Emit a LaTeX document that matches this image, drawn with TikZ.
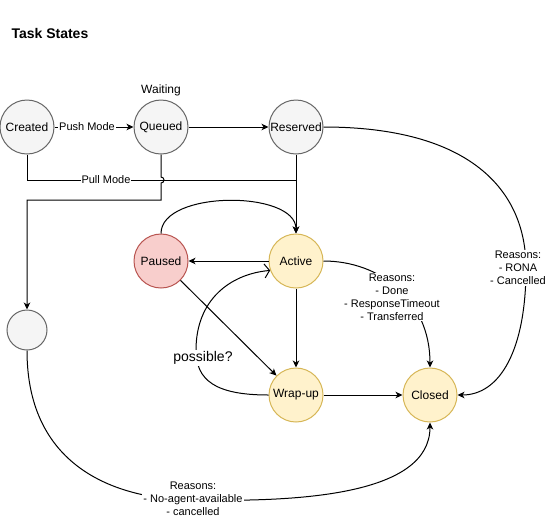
\documentclass[tikz,border=0pt]{standalone}
\usepackage{fontspec}
\setmainfont{Liberation Sans}
\usetikzlibrary{arrows.meta}
\definecolor{gfill}{HTML}{F5F5F5}
\definecolor{gline}{HTML}{666666}
\definecolor{rfill}{HTML}{F8CECC}
\definecolor{rline}{HTML}{B85450}
\definecolor{yfill}{HTML}{FFF2CC}
\definecolor{yline}{HTML}{D6B656}
\begin{document}
\begin{tikzpicture}[x=1pt,y=-1pt,
  every node/.style={font=\fontsize{12}{14}\selectfont},
  state/.style={circle,draw,line width=1pt,minimum size=54pt,inner sep=0pt},
  greystate/.style={state,fill=gfill,draw=gline},
  redstate/.style={state,fill=rfill,draw=rline},
  yellowstate/.style={state,fill=yfill,draw=yline},
  conn/.style={line width=1pt},
  arr/.style={conn,-{Stealth[length=7pt,width=6.5pt,inset=2pt]}},
  lbl/.style={fill=white,inner sep=1pt,align=center,font=\fontsize{11}{13}\selectfont},
]
\useasboundingbox (0,0) rectangle (545,520);

\node[anchor=west,font=\bfseries\fontsize{14}{16}\selectfont] (title) at (8,33) {Task States};
\node (waiting) at (161,90) {Waiting};

\node[greystate] (cr) at (27,127) {Created};
\node[greystate] (qu) at (161,127) {Queued};
\node[greystate] (re) at (296,127) {Reserved};
\node[redstate] (pa) at (161,261) {Paused};
\node[yellowstate] (ac) at (296,261) {Active};
\node[yellowstate] (wr) at (296,395) {Wrap-up};
\node[yellowstate] (cl) at (430,395) {Closed};
\node[greystate,minimum size=40pt] (bl) at (27,330) {};

\coordinate (j1) at (296,180);

% top row
\draw[arr] (cr) -- (qu);
\draw[arr] (qu) -- (re);
\draw[conn] (cr.south) |- (j1);
\draw[arr] (re) -- (ac);
\draw[arr] (qu.south) -- (161,177) .. controls (165,177) and (165,183) .. (161,183) -- (161,200) -- (27,200) -- (bl.north);

% middle
\draw[arr] (pa.north) .. controls (161,190) and (296,190) .. (ac.north);
\draw[arr] (ac) -- (pa);
\draw[arr] (pa) -- (wr);
\draw[arr] (ac) -- (wr);
\draw[arr] (wr) -- (cl);
\draw[arr] (ac.east) .. controls (380,261) and (430,300) .. (cl.north);
\draw[arr] (re.east) .. controls (470,127) and (526,190) .. (526,268) .. controls (526,350) and (500,395) .. (cl.east);
\draw[arr] (bl.south) .. controls (27,470) and (120,500) .. (195,500) .. controls (300,502) and (430,495) .. (cl.south);
\draw[conn,-{Straight Barb[length=5pt,width=14pt]}] (wr.west) .. controls (215,395) and (196,380) .. (196,350) .. controls (196,300) and (230,274) .. (ac.200);

% labels
\node[lbl] (lpush) at (87,127) {Push Mode};
\node[lbl] (lpull) at (106,180) {Pull Mode};
\node[lbl] (ldone) at (392,297) {Reasons:\\- Done\\- ResponseTimeout\\- Transferred};
\node[lbl] (lrona) at (518,268) {Reasons:\\- RONA\\- Cancelled};
\node[lbl] (lnoag) at (193,499) {Reasons:\\- No-agent-available\\- cancelled};
\node[lbl,font=\fontsize{14}{16}\selectfont] (lposs) at (203,358) {possible?};
\end{tikzpicture}
\end{document}
